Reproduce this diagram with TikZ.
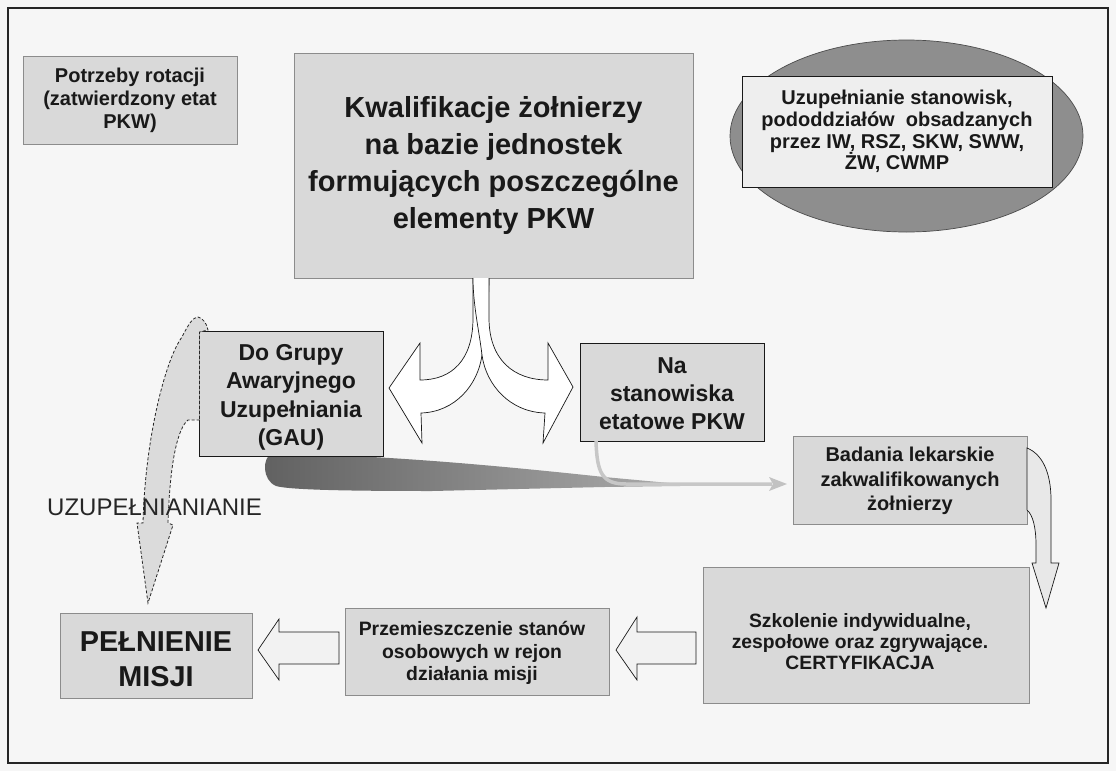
\documentclass[tikz,border=0pt]{standalone}
\usepackage{fontspec}
\setmainfont{Liberation Sans}
\usetikzlibrary{shapes.geometric,calc}
\definecolor{bg}{HTML}{F6F6F6}
\definecolor{boxgray}{HTML}{D9D9D9}
\definecolor{ellgray}{HTML}{8E8E8E}
\definecolor{innergray}{HTML}{EEEEEE}
\definecolor{arrowfill}{HTML}{F2F2F2}
\tikzset{
  box/.style={draw=black!45, line width=0.7pt, fill=boxgray, inner sep=0pt, outer sep=0pt},
  boxk/.style={box, draw=black!90},
  txt/.style={align=center, inner sep=0pt, text=black!90},
  blockarrow/.style={draw=black!90, line width=0.7pt, fill=arrowfill, line join=miter},
  dasharrow/.style={draw=black!85, line width=0.8pt, dash pattern=on 3pt off 2pt, fill=black!14},
}
\begin{document}
\begin{tikzpicture}[x=1pt,y=-1pt]
\useasboundingbox (0,0) rectangle (1116,771);
\fill[bg] (0,0) rectangle (1116,771);
\draw[line width=1.2pt, black!85] (8,8) rectangle (1108,763);

% dark tapered wedge under the GAU box
\shade[left color=black!62, right color=black!33]
  (272,453) .. controls (262,458) and (262,480) .. (276,486)
  .. controls (290,490) and (350,491) .. (432,491) -- (604,487) -- (680,486)
  -- (680,484) -- (604,477) .. controls (520,468) and (400,456) .. (294,454) -- cycle;

% boxes
\node[box, minimum width=214pt, minimum height=88pt] (pot) at (130,100) {};
\node[box, minimum width=399pt, minimum height=225pt] (kw) at (493.5,165.5) {};
\node[ellipse, draw=black!70, line width=0.7pt, fill=ellgray, minimum width=353pt, minimum height=192pt, inner sep=0pt] (ell) at (906.5,136) {};
\node[boxk, fill=innergray, minimum width=310pt, minimum height=111pt] (inn) at (897,131.5) {};
\node[boxk, minimum width=184pt, minimum height=125pt] (gau) at (291,393.5) {};
\node[boxk, minimum width=184pt, minimum height=98pt] (na) at (672,392) {};
\node[box, minimum width=234pt, minimum height=88pt] (bad) at (910,480) {};
\node[box, minimum width=326pt, minimum height=136pt] (szk) at (866,635) {};
\node[box, minimum width=264pt, minimum height=87pt] (prz) at (477,651.5) {};
\node[box, minimum width=192pt, minimum height=85pt] (pel) at (156,655.5) {};

% texts
\node[txt, font=\fontsize{20}{23}\selectfont\bfseries] (potT) at (pot.center) {Potrzeby rotacji\\(zatwierdzony etat\\PKW)};
\node[txt, font=\fontsize{29}{37}\selectfont\bfseries] (kwT) at (kw.center) {Kwalifikacje żołnierzy\\na bazie jednostek\\formujących poszczególne\\elementy PKW};
\node[txt, font=\fontsize{20}{21.7}\selectfont\bfseries] (innT) at (inn.center) {Uzupełnianie stanowisk,\\pododdziałów~~obsadzanych\\przez IW, RSZ, SKW, SWW,\\ŻW, CWMP};
\node[txt, font=\fontsize{23}{28.3}\selectfont\bfseries] (gauT) at ($(gau.center)+(0,4)$) {Do Grupy\\Awaryjnego\\Uzupełniania\\(GAU)};
\node[txt, font=\fontsize{23}{28}\selectfont\bfseries] (naT) at ($(na.center)+(0,2)$) {Na\\stanowiska\\etatowe PKW};
\node[txt, font=\fontsize{20}{24.5}\selectfont\bfseries] (badT) at ($(bad.center)+(0,1)$) {Badania lekarskie\\zakwalifikowanych\\żołnierzy};
\node[txt, font=\fontsize{19.3}{21}\selectfont\bfseries] (szkT) at ($(szk.center)+(-6,7)$) {Szkolenie indywidualne,\\zespołowe oraz zgrywające.\\CERTYFIKACJA};
\node[txt, font=\fontsize{19.4}{22.5}\selectfont\bfseries] (przT) at ($(prz.center)+(-5,1.5)$) {Przemieszczenie stanów\\osobowych w rejon\\działania misji};
\node[txt, font=\fontsize{28.8}{35}\selectfont\bfseries] (pelT) at ($(pel.center)+(0,3.5)$) {PEŁNIENIE\\MISJI};

% split curved arrows below the qualification box
\draw[blockarrow, fill=white] (473,278) -- (473,318) .. controls (473,360) and (452,380) .. (420,380)
  -- (420,343) -- (389,388) -- (422,443) -- (421,413)
  .. controls (455,412) and (478,385) .. (482,355) .. controls (485,330) and (489,305) .. (489,278);
\draw[blockarrow, fill=white] (489,278) -- (489,318) .. controls (489,360) and (514,380) .. (548,380)
  -- (548,343) -- (573,387) -- (543,443) -- (545,413)
  .. controls (510,412) and (486,385) .. (482,355) .. controls (479,330) and (473,305) .. (473,278);

% light connector from "Na stanowiska" to "Badania"
\coordinate (lc0) at ($(na.south)+(-76,0)$);
\coordinate (lc1) at ($(bad.west)+(-6,4)$);
\draw[line width=3.5pt, black!22] (lc0) .. controls ($(lc0)+(1,32)$) and ($(lc0)+(6,43)$) .. ($(lc0)+(30,43)$) -- ($(lc1)+(-15,0)$);
\fill[black!24] ($(lc1)+(-18,-7)$) -- (lc1) -- ($(lc1)+(-18,7)$) -- ($(lc1)+(-14,0)$) -- cycle;

% curved arrow Badania -> Szkolenie
\draw[blockarrow, fill=black!9] (1027,448) .. controls (1042,454) and (1051,472) .. (1051,500) -- (1051,563)
  -- (1059,563) -- (1046,608) -- (1032,563) -- (1036,563) -- (1036,545)
  .. controls (1036,528) and (1033,515) .. (1027,510) -- cycle;

% dashed curved arrow GAU -> PEŁNIENIE MISJI
\draw[dasharrow] (199.5,420) -- (188,420) .. controls (178,428) and (170,460) .. (168,523)
  -- (173,525) -- (148,603) -- (137,523) -- (143,523)
  .. controls (145,440) and (165,360) .. (182,337) .. controls (188,325) and (193,317) .. (198,317)
  .. controls (203,318) and (207,324) .. (208,330) -- (199.5,332) -- cycle;
\node[anchor=west, inner sep=0pt, font=\fontsize{24}{28}\selectfont, text=black!85] (uzu) at (47,507) {UZUPEŁNIANIANIE};

% block arrows along the bottom row
\draw[blockarrow] (258,650) -- (279,619) -- (279,632) -- (339,632) -- (339,664) -- (279,664) -- (279,680) -- cycle;
\draw[blockarrow] (616,650) -- (637,617) -- (637,632) -- (696,632) -- (696,664) -- (637,664) -- (637,680) -- cycle;
\end{tikzpicture}
\end{document}
